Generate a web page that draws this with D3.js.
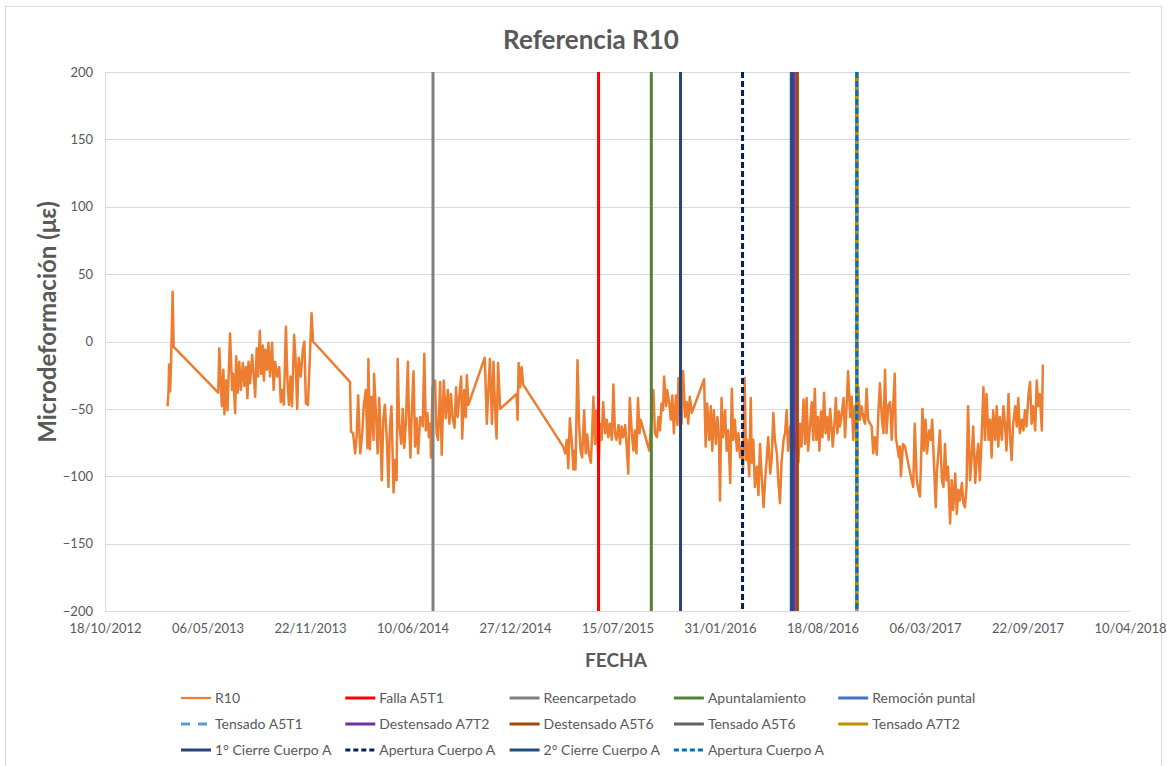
<!DOCTYPE html>
<html>
<head>
<meta charset="utf-8">
<script src="https://cdn.jsdelivr.net/npm/d3@7"></script>
<style>
  body { margin: 0; background: #fff; }
  text { font-family: Lato, "Open Sans", sans-serif; fill: #595959; }
</style>
</head>
<body>
<div id="chart"></div>
<script>
// dates are Excel serial numbers (41200 = 18/10/2012)
var xTicks = [41200, 41400, 41600, 41800, 42000, 42200, 42400, 42600, 42800, 43000, 43200]
var yTicks = [-200, -150, -100, -50, 0, 50, 100, 150, 200]

// R10 readings: [serial, microstrain]
var r10Data = [
  [41322,-48],[41324,-37],[41325,-17],[41327,-37],[41329,-14],[41332,37],[41334,-4],[41421,-38],[41423,-5],[41428,-48],
  [41431,-21],[41433,-54],[41436,-29],[41439,-51],[41444,6],[41448,-36],[41450,-24],[41454,-53],[41456,-11],[41459,-38],
  [41462,-15],[41465,-36],[41469,-16],[41472,-33],[41475,-19],[41478,-42],[41480,-15],[41483,-31],[41487,-10],[41491,-29],
  [41493,-41],[41496,-5],[41499,-26],[41502,8],[41505,-24],[41508,-3],[41510,-29],[41513,-6],[41516,-21],[41519,-1],
  [41522,-26],[41526,-1],[41529,-36],[41532,-15],[41536,-26],[41540,-19],[41543,-45],[41546,-36],[41549,-47],[41553,11],
  [41556,-29],[41559,-47],[41562,-26],[41565,-48],[41569,5],[41572,-14],[41575,-50],[41578,-12],[41582,-26],[41586,-6],
  [41589,0],[41592,-46],[41596,-47],[41599,-19],[41603,21],[41606,0],[41678,-30],[41680,-67],[41684,-68],[41688,-83],
  [41691,-71],[41694,-40],[41698,-83],[41702,-68],[41705,-47],[41709,-36],[41712,-79],[41714,-13],[41717,-80],[41720,-41],
  [41724,-73],[41725,-24],[41729,-56],[41732,-83],[41735,-42],[41738,-73],[41740,-103],[41743,-58],[41746,-47],[41750,-73],
  [41753,-108],[41756,-63],[41759,-48],[41763,-112],[41766,-88],[41769,-103],[41771,-13],[41774,-61],[41778,-76],[41781,-50],
  [41784,-79],[41787,-61],[41791,-15],[41793,-56],[41796,-86],[41798,-58],[41802,-22],[41805,-78],[41808,-57],[41811,-83],
  [41815,-56],[41818,-58],[41820,-63],[41823,-9],[41826,-66],[41829,-53],[41832,-71],[41835,-61],[41836,-86],[41839,-34],
  [41844,-29],[41847,-68],[41850,-73],[41854,-30],[41857,-84],[41861,-29],[41865,-57],[41869,-36],[41872,-61],[41875,-39],
  [41878,-56],[41882,-64],[41885,-34],[41888,-56],[41891,-42],[41895,-26],[41897,-72],[41901,-36],[41904,-56],[41906,-25],
  [41909,-47],[41941,-12],[41945,-61],[41948,-36],[41951,-13],[41955,-61],[41958,-15],[41961,-48],[41964,-72],[41967,-16],
  [41971,-50],[42003,-39],[42005,-58],[42007,-16],[42010,-34],[42013,-19],[42016,-32],[42094,-78],[42098,-83],[42101,-73],
  [42104,-94],[42107,-57],[42111,-76],[42114,-95],[42116,-81],[42118,-95],[42122,-14],[42125,-61],[42128,-81],[42131,-86],
  [42135,-51],[42138,-83],[42141,-69],[42144,-83],[42148,-90],[42150,-73],[42153,-41],[42156,-76],[42159,-51],[42163,-95],
  [42166,-61],[42169,-73],[42172,-45],[42176,-68],[42179,-58],[42182,-71],[42185,-61],[42189,-73],[42192,-32],[42195,-68],
  [42198,-73],[42202,-62],[42205,-76],[42208,-63],[42211,-71],[42215,-62],[42218,-78],[42221,-98],[42224,-42],[42228,-68],
  [42231,-81],[42234,-66],[42237,-83],[42240,-42],[42243,-68],[42245,-58],[42262,-81],[42265,-64],[42270,-36],[42273,-68],
  [42277,-71],[42280,-56],[42283,-66],[42286,-46],[42289,-51],[42291,-26],[42295,-48],[42297,-36],[42301,-46],[42304,-58],
  [42307,-40],[42310,-68],[42314,-40],[42317,-62],[42319,-27],[42322,-48],[42325,-61],[42328,-22],[42332,-56],[42335,-45],
  [42338,-61],[42341,-41],[42345,-53],[42369,-28],[42372,-78],[42375,-46],[42379,-73],[42382,-48],[42385,-81],[42388,-51],
  [42392,-76],[42395,-56],[42398,-73],[42400,-118],[42403,-42],[42406,-71],[42410,-51],[42413,-81],[42416,-66],[42420,-105],
  [42423,-35],[42426,-73],[42429,-58],[42433,-81],[42436,-68],[42439,-86],[42442,-78],[42445,-95],[42448,-27],[42451,-88],
  [42453,-73],[42457,-100],[42460,-42],[42462,-90],[42465,-73],[42468,-108],[42472,-93],[42475,-114],[42478,-76],[42481,-98],
  [42485,-123],[42488,-103],[42491,-88],[42494,-71],[42498,-98],[42501,-86],[42504,-53],[42507,-73],[42511,-83],[42514,-105],
  [42517,-120],[42520,-90],[42524,-73],[42527,-68],[42530,-51],[42533,-81],[42537,-63],[42544,-65],[42553,-90],[42556,-61],
  [42559,-78],[42563,-43],[42566,-76],[42569,-42],[42572,-81],[42576,-61],[42579,-45],[42582,-73],[42585,-35],[42588,-73],
  [42591,-56],[42594,-81],[42597,-52],[42600,-71],[42603,-38],[42606,-68],[42609,-56],[42612,-73],[42615,-50],[42618,-66],
  [42620,-78],[42624,-57],[42626,-42],[42629,-68],[42632,-52],[42634,-63],[42637,-56],[42641,-42],[42644,-71],[42647,-48],
  [42650,-22],[42654,-56],[42657,-41],[42660,-73],[42663,-48],[42667,-61],[42670,-34],[42673,-58],[42676,-48],[42680,-57],
  [42683,-61],[42686,-35],[42689,-58],[42693,-61],[42696,-63],[42699,-83],[42702,-71],[42706,-84],[42709,-53],[42712,-31],
  [42716,-58],[42719,-68],[42722,-21],[42725,-68],[42728,-48],[42732,-45],[42735,-73],[42738,-48],[42741,-24],[42743,-71],
  [42746,-78],[42749,-86],[42751,-78],[42753,-100],[42757,-76],[42761,-78],[42767,-90],[42774,-103],[42777,-108],[42780,-61],
  [42784,-103],[42787,-110],[42790,-115],[42792,-93],[42795,-50],[42798,-81],[42801,-58],[42804,-83],[42808,-66],[42811,-73],
  [42814,-58],[42818,-95],[42821,-123],[42823,-98],[42826,-83],[42829,-66],[42833,-103],[42836,-108],[42839,-76],[42842,-103],
  [42845,-93],[42849,-135],[42852,-103],[42855,-125],[42859,-98],[42862,-128],[42865,-110],[42868,-118],[42872,-105],[42875,-120],
  [42878,-123],[42881,-108],[42884,-48],[42888,-103],[42891,-86],[42894,-63],[42898,-105],[42901,-86],[42904,-76],[42907,-103],
  [42911,-66],[42914,-34],[42917,-73],[42920,-39],[42924,-73],[42927,-58],[42930,-86],[42933,-51],[42937,-73],[42940,-48],
  [42943,-78],[42946,-56],[42950,-73],[42953,-48],[42956,-61],[42959,-81],[42963,-39],[42966,-71],[42969,-88],[42972,-61],
  [42976,-48],[42979,-63],[42982,-42],[42985,-68],[42989,-58],[42992,-66],[42995,-51],[42998,-63],[43002,-39],[43005,-30],
  [43008,-61],[43011,-48],[43015,-66],[43018,-29],[43021,-48],[43024,-39],[43028,-66],[43030,-17]
]

// event markers (vertical lines), in legend order
var eventNames = ["Falla A5T1", "Reencarpetado", "Apuntalamiento", "Remoción puntal", "Tensado A5T1",
  "Destensado A7T2", "Destensado A5T6", "Tensado A5T6", "Tensado A7T2", "1° Cierre Cuerpo A",
  "Apertura Cuerpo A", "2° Cierre Cuerpo A", "Apertura Cuerpo A"]
var eventSerials = [42163, 41840, 42266, 42539, 42667, 42545, 42551, 42667, 42667, 42323, 42444, 42540, 42667]

var eventStyle = [
  {color: "#FF0000", dash: null},
  {color: "#7F7F7F", dash: null},
  {color: "#548235", dash: null},
  {color: "#4472C4", dash: null},
  {color: "#5B9BD5", dash: "9,8"},
  {color: "#7030A0", dash: null},
  {color: "#9E480E", dash: null},
  {color: "#636363", dash: null},
  {color: "#BF9000", dash: null},
  {color: "#264478", dash: null},
  {color: "#002060", dash: "6,3"},
  {color: "#1F4E79", dash: null},
  {color: "#0070C0", dash: "6,3"}
]

function excelDate(n){ return new Date(Date.UTC(1899, 11, 30) + n * 864e5) }

var W = 1167, H = 766
var margin = {top: 72, right: 37, bottom: 155, left: 105}
var width = W - margin.left - margin.right
var height = H - margin.top - margin.bottom

var svg = d3.select("#chart").append("svg")
  .attr("width", W).attr("height", H)

// outer chart border
svg.append("rect")
  .attr("x", 5.5).attr("y", 6.5)
  .attr("width", 1156).attr("height", 770)
  .attr("fill", "none").attr("stroke", "#D9D9D9")

var g = svg.append("g")
  .attr("transform", "translate(" + margin.left + "," + margin.top + ")")

var x = d3.scaleUtc()
  .domain([excelDate(xTicks[0]), excelDate(xTicks[xTicks.length - 1])])
  .range([0, width])
var y = d3.scaleLinear().domain([-200, 200]).range([height, 0])

// gridlines
g.selectAll(".grid").data(yTicks).enter().append("line")
  .attr("x1", 0).attr("x2", width)
  .attr("y1", d => Math.round(y(d)) + 0.5).attr("y2", d => Math.round(y(d)) + 0.5)
  .attr("stroke", "#D9D9D9").attr("stroke-width", 1)
g.append("line")
  .attr("x1", 0.5).attr("x2", 0.5).attr("y1", 0).attr("y2", height)
  .attr("stroke", "#D9D9D9")

// y axis labels
var yAxis = g.append("g").call(d3.axisLeft(y).tickValues(yTicks).tickSize(0).tickPadding(12))
yAxis.select(".domain").remove()
yAxis.selectAll("text").style("font-size", "13px").attr("fill", "#595959")

// x axis labels
var fmt = d3.utcFormat("%d/%m/%Y")
var xAxis = g.append("g")
  .attr("transform", "translate(0," + height + ")")
  .call(d3.axisBottom(x).tickValues(xTicks.map(excelDate)).tickFormat(fmt).tickSize(0).tickPadding(13))
xAxis.select(".domain").remove()
xAxis.selectAll("text").style("font-size", "13px").attr("fill", "#595959")

// R10 line
var line = d3.line()
  .x(d => x(excelDate(d[0])))
  .y(d => y(d[1]))
g.append("path")
  .datum(r10Data)
  .attr("fill", "none")
  .attr("stroke", "#ED7D31")
  .attr("stroke-width", 2.5)
  .attr("stroke-linejoin", "round")
  .attr("d", line)

// event lines, drawn in series order
g.selectAll(".event").data(eventSerials).enter().append("line")
  .attr("x1", d => x(excelDate(d))).attr("x2", d => x(excelDate(d)))
  .attr("y1", y(200)).attr("y2", y(-200))
  .attr("stroke", (d, i) => eventStyle[i].color)
  .attr("stroke-width", 3)
  .attr("stroke-dasharray", (d, i) => eventStyle[i].dash)

// titles
svg.append("text")
  .attr("x", 591).attr("y", 49)
  .attr("text-anchor", "middle")
  .style("font-size", "26px").style("font-weight", "bold")
  .text("Referencia R10")
svg.append("text")
  .attr("x", 616).attr("y", 667)
  .attr("text-anchor", "middle")
  .style("font-size", "19px").style("font-weight", "bold")
  .text("FECHA")
svg.append("text")
  .attr("transform", "translate(56,322) rotate(-90)")
  .attr("text-anchor", "middle")
  .style("font-size", "24px").style("font-weight", "bold")
  .text("Microdeformación (με)")

// legend
var legendNames = ["R10"].concat(eventNames)
var legendStyle = [{color: "#ED7D31", dash: null}].concat(eventStyle)
legendStyle[11] = {color: "#002060", dash: "5,3"}
legendStyle[13] = {color: "#0070C0", dash: "5,3"}
var colW = 164.3, rowH = 26
var leg = svg.append("g").attr("transform", "translate(181,698)")
var item = leg.selectAll(".item").data(legendNames).enter().append("g")
  .attr("transform", (d, i) => "translate(" + (i % 5) * colW + "," + Math.floor(i / 5) * rowH + ")")
item.append("line")
  .attr("x1", 0).attr("x2", 30).attr("y1", 0).attr("y2", 0)
  .attr("stroke", (d, i) => legendStyle[i].color)
  .attr("stroke-width", (d, i) => i == 0 ? 2.25 : 3)
  .attr("stroke-dasharray", (d, i) => legendStyle[i].dash)
item.append("text")
  .attr("x", 34).attr("y", 0).attr("dy", "0.35em")
  .style("font-size", "14px")
  .text(d => d)
</script>
</body>
</html>
